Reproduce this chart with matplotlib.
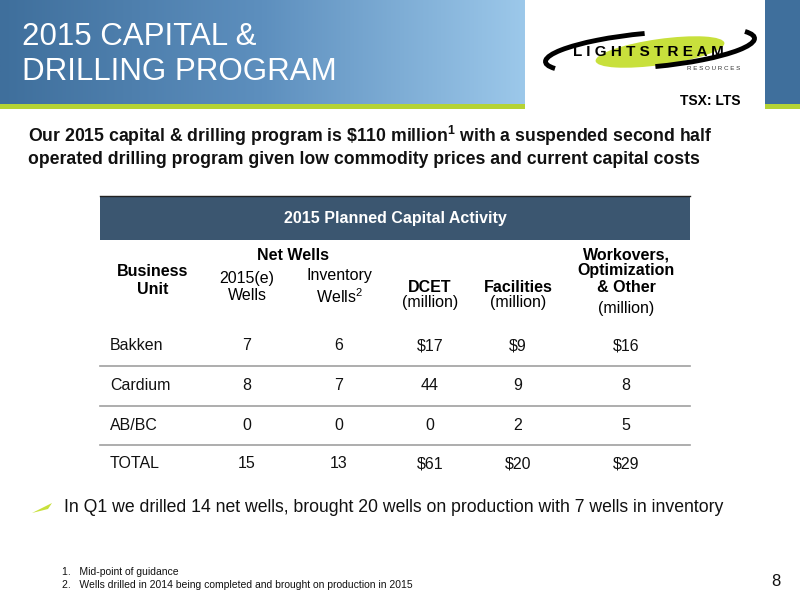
import numpy as np
import matplotlib
matplotlib.use("Agg")
import matplotlib.pyplot as plt
import matplotlib.patches as mpatches

# ── data ──────────────────────────────────────────────────────────────────────
units     = ["Bakken", "Cardium", "AB/BC", "TOTAL"]
wells_e   = ["7", "8", "0", "15"]
wells_inv = ["6", "7", "0", "13"]
dcet      = ["$17", "44", "0", "$61"]
facil     = ["$9", "9", "2", "$20"]
workover  = ["$16", "8", "5", "$29"]

TEXT  = "#111111"
NAVY  = "#3b5670"
GREEN = "#b5d334"
plt.rcParams["font.family"] = ["Liberation Sans", "DejaVu Sans"]
plt.rcParams["mathtext.fontset"] = "custom"
plt.rcParams["mathtext.rm"] = "Liberation Sans"
plt.rcParams["mathtext.bf"] = "Liberation Sans:bold"

fig = plt.figure(figsize=(8, 6), dpi=100)
ax = fig.add_axes([0, 0, 1, 1])
ax.set_xlim(0, 800)
ax.set_ylim(600, 0)
ax.axis("off")

# ── banner ────────────────────────────────────────────────────────────────────
grad = np.linspace(0, 1, 256)[None, :]
cmap = matplotlib.colors.LinearSegmentedColormap.from_list(
    "b", ["#3f6f9c", "#5d8fbe", "#9cc8ea"])
ax.imshow(grad, extent=(0, 525, 104, 0), cmap=cmap, aspect="auto", zorder=0)
ax.add_patch(mpatches.Rectangle((0, 104), 525, 5, color=GREEN, lw=0))
ax.add_patch(mpatches.Rectangle((765, 0), 35, 104, color="#3f6f9c", lw=0))
ax.add_patch(mpatches.Rectangle((765, 104), 35, 5, color=GREEN, lw=0))
ax.text(22, 37, "2015 CAPITAL &", color="white", fontsize=22.5, va="center")
ax.text(22, 72, "DRILLING PROGRAM", color="white", fontsize=22.5, va="center")

# logo
ax.add_patch(mpatches.Ellipse((660, 52), 130, 26, angle=-8, color="#c8e03c", lw=0, zorder=1))
ax.add_patch(mpatches.Arc((640, 52), 190, 36, angle=-6, theta1=175, theta2=290,
                          color="black", lw=3.5, zorder=1))
ax.add_patch(mpatches.Arc((660, 48), 190, 36, angle=-6, theta1=-5, theta2=110,
                          color="black", lw=3.5, zorder=1))
ax.text(648, 52, "L I G H T S T R E A M", fontsize=11, fontweight="bold",
        ha="center", va="center", color="black", zorder=3)
ax.text(740, 68, "R E S O U R C E S", fontsize=4.5, ha="right", va="center",
        color="#333333", zorder=3)
ax.text(740, 101, "TSX: LTS", fontsize=10, fontweight="bold", ha="right", va="center")

# ── subtitle ──────────────────────────────────────────────────────────────────
ax.text(28, 136, r"Our 2015 capital & drilling program is \$110 million$^{\mathbf{1}}$ with a suspended second half",
        fontsize=12.7, fontweight="bold", va="center", color=TEXT)
ax.text(28, 159, "operated drilling program given low commodity prices and current capital costs",
        fontsize=12.7, fontweight="bold", va="center", color=TEXT)

# ── table ─────────────────────────────────────────────────────────────────────
ax.add_patch(mpatches.Rectangle((100, 196), 590, 44, color=NAVY, lw=0))
ax.plot([100, 690], [196, 196], color="#222222", lw=1)
ax.text(395, 218, "2015 Planned Capital Activity", color="white", fontsize=11.5,
        fontweight="bold", ha="center", va="center")

fs = 11.5
cx = [247, 339, 430, 518, 626]
ax.text(293, 255, "Net Wells", fontsize=fs, fontweight="bold", ha="center", va="center")
ax.text(153, 281, "Business\nUnit", fontsize=fs, fontweight="bold", ha="center",
        va="center", linespacing=1.25)
ax.text(cx[0], 287, "2015(e)\nWells", fontsize=fs, ha="center", va="center", linespacing=1.25)
ax.text(cx[1], 287, "Inventory\nWells$^2$", fontsize=fs, ha="center", va="center", linespacing=1.25)
ax.text(cx[2], 288, "DCET", fontsize=fs, fontweight="bold", ha="center", va="center")
ax.text(cx[2], 302, "(million)", fontsize=fs, ha="center", va="center")
ax.text(cx[3], 288, "Facilities", fontsize=fs, fontweight="bold", ha="center", va="center")
ax.text(cx[3], 302, "(million)", fontsize=fs, ha="center", va="center")
ax.text(cx[4], 271, "Workovers,\nOptimization\n& Other", fontsize=fs, fontweight="bold",
        ha="center", va="center", linespacing=1.1)
ax.text(cx[4], 309, "(million)", fontsize=fs, ha="center", va="center")

row_y = [346, 386, 425, 464]
cols = [wells_e, wells_inv, dcet, facil, workover]
for i, u in enumerate(units):
    ax.text(110, row_y[i], u, fontsize=fs, va="center", color=TEXT)
    for x, col in zip(cx, cols):
        ax.text(x, row_y[i], col[i], fontsize=fs, ha="center", va="center", color=TEXT)
    if i < len(units) - 1:
        ax.plot([100, 690], [row_y[i] + 20, row_y[i] + 20], color="#a0a0a0", lw=1.2)

# ── bullet & footnotes ────────────────────────────────────────────────────────
ax.add_patch(mpatches.Polygon([[32, 513], [52, 503], [48, 509]], color="#c8e03c", lw=0))
ax.text(64, 508, "In Q1 we drilled 14 net wells, brought 20 wells on production with 7 wells in inventory",
        fontsize=12.7, va="center", color=TEXT)
ax.text(62, 572, "1.   Mid-point of guidance", fontsize=7.5, va="center", color=TEXT)
ax.text(62, 585, "2.   Wells drilled in 2014 being completed and brought on production in 2015",
        fontsize=7.5, va="center", color=TEXT)
ax.text(776, 581, "8", fontsize=12, ha="center", va="center", color=TEXT)

fig.savefig("out.png", dpi=100)
